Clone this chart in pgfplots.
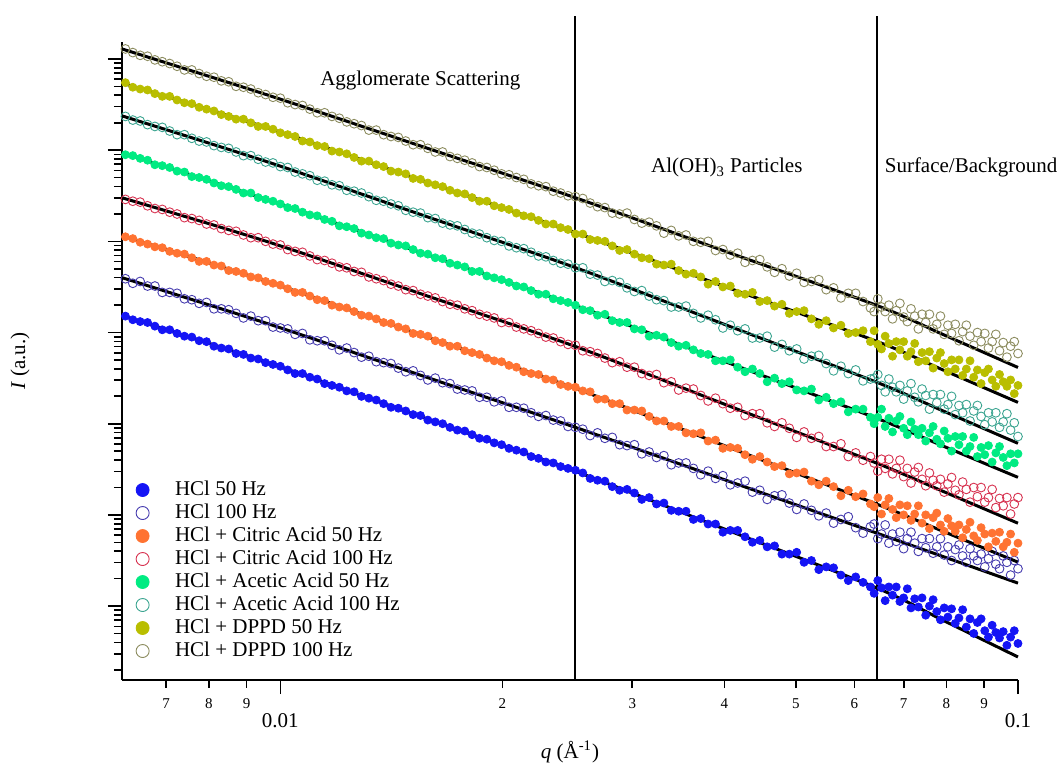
\documentclass[border=0pt]{standalone}
\usepackage{fontspec}
\setmainfont{Liberation Serif}
\usepackage{pgfplots}
\usepackage{pgfplotstable}
\pgfplotsset{compat=1.18}

% series colours
\definecolor{hclA}{RGB}{20,20,245}
\definecolor{hclB}{RGB}{70,60,175}
\definecolor{citA}{RGB}{255,115,50}
\definecolor{citB}{RGB}{215,50,80}
\definecolor{aceA}{RGB}{0,235,130}
\definecolor{aceB}{RGB}{60,165,145}
\definecolor{dppA}{RGB}{185,190,0}
\definecolor{dppB}{RGB}{140,140,95}

% scattering data: q (1/A) and log10 I for each sample
% s1 HCl 50, s2 HCl 100, s3 citric 50, s4 citric 100,
% s5 acetic 50, s6 acetic 100, s7 DPPD 50, s8 DPPD 100
\pgfplotstableread{
q s1 s2 s3 s4 s5 s6 s7 s8
0.0061660 3.18 3.59 4.05 4.46 4.95 5.37 5.74 6.11
0.0063096 3.14 3.54 4.03 4.44 4.94 5.33 5.69 6.07
0.0064565 3.12 3.56 3.99 4.43 4.91 5.32 5.67 6.04
0.0066069 3.11 3.51 3.97 4.39 4.89 5.28 5.66 6.03
0.0067608 3.07 3.51 3.94 4.36 4.84 5.26 5.62 5.99
0.0069183 3.03 3.44 3.93 4.35 4.83 5.25 5.59 5.97
0.0070795 3.03 3.44 3.89 4.32 4.81 5.21 5.59 5.95
0.0072444 2.99 3.43 3.87 4.30 4.77 5.17 5.55 5.92
0.0074131 2.96 3.37 3.86 4.26 4.76 5.17 5.52 5.88
0.0075858 2.95 3.36 3.82 4.25 4.71 5.13 5.51 5.88
0.0077625 2.91 3.32 3.78 4.23 4.70 5.10 5.47 5.84
0.0079433 2.90 3.33 3.78 4.19 4.68 5.09 5.45 5.81
0.0081283 2.85 3.26 3.74 4.18 4.64 5.05 5.43 5.80
0.0083176 2.83 3.26 3.73 4.14 4.61 5.03 5.39 5.76
0.0085114 2.82 3.25 3.68 4.12 4.60 5.02 5.37 5.75
0.0087096 2.77 3.21 3.67 4.11 4.57 4.98 5.34 5.70
0.0089125 2.76 3.16 3.65 4.07 4.53 4.94 5.34 5.69
0.0091201 2.72 3.18 3.61 4.04 4.53 4.94 5.30 5.67
0.0093325 2.71 3.13 3.60 4.04 4.48 4.90 5.26 5.63
0.0095499 2.67 3.13 3.56 4.00 4.46 4.87 5.26 5.61
0.0097724 2.65 3.06 3.54 3.97 4.44 4.86 5.23 5.58
0.010000 2.63 3.05 3.52 3.96 4.41 4.82 5.19 5.57
0.010233 2.59 3.04 3.48 3.91 4.37 4.81 5.17 5.52
0.010471 2.55 2.98 3.44 3.89 4.36 4.76 5.15 5.50
0.010715 2.55 2.99 3.44 3.88 4.32 4.74 5.10 5.49
0.010965 2.51 2.92 3.40 3.84 4.29 4.72 5.09 5.45
0.011220 2.49 2.91 3.36 3.80 4.28 4.67 5.05 5.41
0.011482 2.44 2.91 3.35 3.79 4.24 4.66 5.04 5.41
0.011749 2.42 2.86 3.30 3.76 4.22 4.62 4.99 5.37
0.012023 2.40 2.81 3.28 3.72 4.17 4.61 4.98 5.35
0.012303 2.36 2.83 3.27 3.71 4.16 4.56 4.96 5.31
0.012589 2.35 2.78 3.23 3.67 4.14 4.55 4.92 5.29
0.012882 2.30 2.73 3.19 3.66 4.09 4.53 4.88 5.27
0.013183 2.28 2.74 3.18 3.61 4.07 4.49 4.88 5.22
0.013490 2.26 2.68 3.15 3.59 4.04 4.45 4.84 5.22
0.013804 2.22 2.67 3.11 3.57 4.03 4.44 4.82 5.17
0.014125 2.18 2.66 3.10 3.53 3.98 4.41 4.77 5.15
0.014454 2.17 2.61 3.06 3.51 3.96 4.39 4.76 5.14
0.014791 2.14 2.57 3.04 3.47 3.95 4.34 4.74 5.10
0.015136 2.10 2.58 2.99 3.46 3.91 4.32 4.69 5.06
0.015488 2.09 2.53 2.98 3.42 3.87 4.31 4.68 5.06
0.015849 2.04 2.48 2.96 3.40 3.86 4.26 4.64 5.02
0.016218 2.02 2.50 2.91 3.38 3.82 4.25 4.62 4.98
0.016596 2.00 2.45 2.89 3.34 3.81 4.20 4.60 4.98
0.016982 1.96 2.44 2.85 3.31 3.76 4.18 4.56 4.93
0.017378 1.93 2.38 2.85 3.30 3.74 4.17 4.53 4.91
0.017783 1.92 2.37 2.80 3.26 3.72 4.13 4.52 4.89
0.018197 1.88 2.36 2.78 3.24 3.67 4.09 4.48 4.86
0.018621 1.84 2.29 2.76 3.20 3.67 4.08 4.44 4.82
0.019055 1.83 2.29 2.72 3.18 3.62 4.04 4.44 4.81
0.019498 1.79 2.24 2.69 3.16 3.60 4.01 4.39 4.78
0.019953 1.77 2.25 2.68 3.11 3.58 4.00 4.37 4.74
0.020417 1.73 2.18 2.64 3.11 3.55 3.95 4.35 4.73
0.020893 1.71 2.18 2.62 3.06 3.51 3.93 4.31 4.70
0.021380 1.69 2.17 2.57 3.04 3.50 3.92 4.28 4.68
0.021878 1.64 2.12 2.55 3.02 3.46 3.88 4.27 4.63
0.022387 1.62 2.08 2.54 2.99 3.42 3.84 4.23 4.61
0.022909 1.58 2.09 2.49 2.95 3.42 3.83 4.19 4.60
0.023442 1.57 2.04 2.48 2.94 3.37 3.79 4.19 4.55
0.023988 1.53 2.03 2.43 2.90 3.35 3.76 4.15 4.53
0.024547 1.51 1.97 2.41 2.87 3.33 3.75 4.13 4.50
0.025119 1.49 1.96 2.40 2.86 3.30 3.71 4.08 4.49
0.025704 1.46 1.94 2.36 2.80 3.25 3.71 4.08 4.47
0.026303 1.40 1.87 2.35 2.79 3.24 3.64 4.02 4.42
0.026915 1.38 1.90 2.27 2.77 3.19 3.63 4.01 4.38
0.027542 1.37 1.84 2.27 2.72 3.20 3.56 4.00 4.37
0.028184 1.31 1.85 2.22 2.67 3.13 3.57 3.95 4.31
0.028840 1.27 1.77 2.22 2.68 3.11 3.55 3.90 4.30
0.029512 1.28 1.76 2.15 2.62 3.11 3.49 3.91 4.31
0.030200 1.24 1.77 2.15 2.62 3.04 3.45 3.86 4.24
0.030903 1.17 1.67 2.14 2.55 3.03 3.46 3.82 4.20
0.031623 1.19 1.69 2.08 2.53 2.96 3.40 3.81 4.21
0.032359 1.12 1.63 2.03 2.54 2.97 3.36 3.75 4.17
0.033113 1.13 1.65 2.03 2.45 2.95 3.35 3.74 4.09
0.033884 1.05 1.55 1.97 2.46 2.89 3.28 3.75 4.12
0.034674 1.04 1.57 1.97 2.37 2.85 3.28 3.68 4.06
0.035481 1.04 1.57 1.90 2.39 2.86 3.29 3.64 4.07
0.036308 0.95 1.51 1.89 2.38 2.81 3.21 3.65 4.00
0.037154 0.96 1.44 1.90 2.31 2.77 3.16 3.61 3.99
0.038019 0.90 1.48 1.81 2.25 2.76 3.19 3.53 4.00
0.038905 0.90 1.40 1.82 2.28 2.69 3.14 3.56 3.90
0.039811 0.81 1.43 1.73 2.22 2.69 3.05 3.50 3.91
0.040738 0.83 1.33 1.74 2.17 2.70 3.08 3.51 3.85
0.041687 0.83 1.35 1.73 2.18 2.62 3.02 3.43 3.87
0.042658 0.76 1.37 1.66 2.09 2.57 3.04 3.42 3.77
0.043652 0.70 1.25 1.61 2.11 2.60 2.94 3.44 3.79
0.044668 0.72 1.27 1.64 2.11 2.55 2.94 3.34 3.80
0.045709 0.65 1.17 1.58 2.01 2.46 2.96 3.35 3.72
0.046774 0.66 1.21 1.53 1.97 2.50 2.84 3.29 3.66
0.047863 0.57 1.22 1.54 2.01 2.44 2.87 3.31 3.70
0.048978 0.57 1.13 1.45 1.95 2.46 2.80 3.21 3.62
0.050119 0.59 1.06 1.46 1.85 2.37 2.82 3.23 3.65
0.051286 0.48 1.12 1.47 1.91 2.36 2.71 3.24 3.55
0.052481 0.50 1.05 1.37 1.84 2.38 2.74 3.15 3.56
0.053703 0.40 0.99 1.33 1.86 2.26 2.75 3.09 3.58
0.054954 0.43 1.02 1.37 1.75 2.29 2.66 3.13 3.47
0.056234 0.42 0.91 1.31 1.75 2.22 2.58 3.05 3.49
0.057544 0.34 0.95 1.21 1.78 2.24 2.63 3.08 3.38
0.058884 0.28 0.98 1.27 1.64 2.13 2.55 2.99 3.43
0.060256 0.32 0.86 1.20 1.68 2.16 2.59 3.00 3.43
0.061660 0.26 0.80 1.23 1.60 2.16 2.47 3.02 3.34
0.063096 0.21 0.87 1.12 1.64 2.07 2.49 2.90 3.27
0.063826 0.14 0.90 1.09 1.57 2.00 2.50 3.02 3.23
0.064565 0.28 0.74 1.19 1.48 2.07 2.54 2.87 3.37
0.065313 0.20 0.79 1.01 1.61 2.16 2.42 2.82 3.28
0.066069 0.06 0.89 1.11 1.51 1.97 2.35 2.96 3.23
0.066834 0.21 0.69 1.18 1.61 2.06 2.49 2.88 3.30
0.067608 0.12 0.79 1.06 1.45 1.91 2.40 2.74 3.15
0.068391 0.21 0.71 0.97 1.51 2.03 2.35 2.90 3.24
0.069183 0.05 0.81 1.11 1.60 2.08 2.42 2.81 3.32
0.069984 0.09 0.63 1.00 1.42 1.95 2.27 2.90 3.17
0.070795 0.19 0.74 1.10 1.51 1.88 2.36 2.74 3.12
0.071614 -0.02 0.81 0.94 1.35 2.02 2.44 2.79 3.26
0.072444 0.08 0.69 1.01 1.47 1.94 2.29 2.88 3.18
0.073282 -0.01 0.60 1.10 1.52 1.88 2.24 2.68 3.04
0.074131 0.09 0.74 0.91 1.39 1.95 2.38 2.78 3.20
0.074989 -0.10 0.64 1.00 1.32 1.81 2.31 2.69 3.11
0.075858 0.00 0.74 0.85 1.46 1.90 2.16 2.79 3.20
0.076736 0.07 0.58 0.97 1.38 1.97 2.32 2.61 3.04
0.077625 -0.06 0.65 1.02 1.32 1.83 2.23 2.72 3.09
0.078524 -0.15 0.74 0.89 1.39 1.78 2.32 2.78 3.18
0.079433 -0.02 0.56 0.82 1.25 1.92 2.16 2.66 2.98
0.080353 -0.12 0.65 0.96 1.34 1.84 2.21 2.57 3.08
0.081283 -0.03 0.50 0.88 1.41 1.70 2.30 2.70 2.99
0.082224 -0.19 0.62 0.82 1.27 1.86 2.10 2.60 3.09
0.083176 -0.13 0.67 0.89 1.22 1.77 2.20 2.70 2.91
0.084140 -0.04 0.55 0.75 1.36 1.86 2.12 2.53 3.01
0.085114 -0.23 0.48 0.84 1.28 1.70 2.21 2.60 3.08
0.086100 -0.14 0.63 0.92 1.14 1.75 2.03 2.69 2.96
0.087096 -0.30 0.55 0.77 1.30 1.85 2.14 2.51 2.86
0.088105 -0.18 0.50 0.72 1.20 1.64 2.20 2.59 3.00
0.089125 -0.14 0.57 0.86 1.30 1.74 2.08 2.44 2.90
0.090157 -0.27 0.43 0.79 1.14 1.66 1.99 2.56 2.99
0.091201 -0.34 0.52 0.65 1.19 1.76 2.12 2.60 2.83
0.092257 -0.21 0.60 0.80 1.28 1.58 2.02 2.48 2.90
0.093325 -0.29 0.46 0.71 1.08 1.68 2.12 2.41 2.98
0.094406 -0.35 0.41 0.81 1.18 1.75 1.96 2.54 2.80
0.095499 -0.28 0.55 0.65 1.10 1.63 2.02 2.46 2.89
0.096605 -0.43 0.48 0.70 1.19 1.54 2.11 2.41 2.73
0.097724 -0.34 0.34 0.79 1.01 1.67 1.93 2.48 2.85
0.098855 -0.27 0.50 0.59 1.12 1.57 2.01 2.33 2.90
0.100000 -0.41 0.41 0.69 1.19 1.67 1.86 2.42 2.77
}\scatterdata

% unified-model fits, log10 I at selected q
\pgfplotstableread{
q s1 s2 s3 s4 s5 s6 s7 s8
0.0061 3.186 3.602 4.062 4.478 4.971 5.376 5.737 6.110
0.009693 2.661 3.088 3.548 3.986 4.445 4.861 5.234 5.595
0.015849 2.050 2.505 2.948 3.399 3.851 4.267 4.646 5.019
0.025119 1.478 1.960 2.387 2.847 3.296 3.712 4.095 4.478
0.039811 0.852 1.392 1.766 2.221 2.690 3.096 3.512 3.900
0.064418 0.197 0.799 1.117 1.566 2.058 2.453 2.902 3.296
0.079433 -0.162 0.539 0.815 1.253 1.750 2.135 2.584 2.973
0.1 -0.558 0.252 0.482 0.909 1.412 1.785 2.234 2.617
}\fitdata

\begin{document}
\begin{tikzpicture}
\begin{axis}[
  scale only axis, width=448pt, height=319pt,
  xmode=log, ymode=log,
  xmin=0.0061, xmax=0.1, ymin=0.1547, ymax=1.535e6,
  axis x line*=bottom, axis y line*=left,
  axis line style={line width=0.9pt, black},
  tick align=outside,
  tick style={line width=0.8pt, black},
  major tick length=7pt, minor tick length=4pt,
  xtick={0.01,0.1}, xticklabels={0.01,0.1},
  minor xtick={},
  xticklabel style={font=\fontsize{10.5}{12}\selectfont, yshift=-6pt},
  extra x ticks={0.007,0.008,0.009,0.02,0.03,0.04,0.05,0.06,0.07,0.08,0.09},
  extra x tick labels={7,8,9,2,3,4,5,6,7,8,9},
  extra x tick style={major tick length=3.75pt,
    xticklabel style={font=\fontsize{7.5}{9}\selectfont, yshift=4pt}},
  ytick={1,10,100,1000,10000,100000,1000000},
  minor ytick={0.2,0.3,0.4,0.5,0.6,0.7,0.8,0.9,2,3,4,5,6,7,8,9,
    20,30,40,50,60,70,80,90,200,300,400,500,600,700,800,900,
    2000,3000,4000,5000,6000,7000,8000,9000,
    20000,30000,40000,50000,60000,70000,80000,90000,
    200000,300000,400000,500000,600000,700000,800000,900000},
  yticklabels={},
  xlabel={\textit{q} (Å\textsuperscript{-1})},
  xlabel style={at={(axis description cs:0.5,-0.1129)}, anchor=center,
    font=\fontsize{10.5}{12}\selectfont},
  ylabel={\textit{I} (a.u.)},
  ylabel style={at={(axis description cs:-0.1138,0.5)}, anchor=center,
    font=\fontsize{10.5}{12}\selectfont},
  clip=false,
  legend cell align=left,
  legend style={draw=none, fill=none,
    at={(axis description cs:0.0082,0.318)}, anchor=north west,
    font=\fontsize{10.5}{12}\selectfont,
    row sep=3pt,
    nodes={inner sep=0pt, text height=7pt, text depth=1.5pt}},
  legend image code/.code={
    \draw[#1, mark size=3.25pt] plot coordinates {(3.25pt,0pt)};
    \path (0pt,0pt) (19.25pt,0pt);},
]
% measured curves
\addplot[only marks, mark=*, mark size=2pt, color=hclA]
  table[x=q, y expr={10^(\thisrow{s1})}] {\scatterdata};
\addlegendentry{HCl 50 Hz}
\addplot[only marks, mark=o, mark size=2.2pt, mark options={line width=0.45pt}, color=hclB]
  table[x=q, y expr={10^(\thisrow{s2})}] {\scatterdata};
\addlegendentry{HCl 100 Hz}
\addplot[only marks, mark=*, mark size=2pt, color=citA]
  table[x=q, y expr={10^(\thisrow{s3})}] {\scatterdata};
\addlegendentry{HCl + Citric Acid 50 Hz}
\addplot[only marks, mark=o, mark size=2.2pt, mark options={line width=0.45pt}, color=citB]
  table[x=q, y expr={10^(\thisrow{s4})}] {\scatterdata};
\addlegendentry{HCl + Citric Acid 100 Hz}
\addplot[only marks, mark=*, mark size=2pt, color=aceA]
  table[x=q, y expr={10^(\thisrow{s5})}] {\scatterdata};
\addlegendentry{HCl + Acetic Acid 50 Hz}
\addplot[only marks, mark=o, mark size=2.2pt, mark options={line width=0.45pt}, color=aceB]
  table[x=q, y expr={10^(\thisrow{s6})}] {\scatterdata};
\addlegendentry{HCl + Acetic Acid 100 Hz}
\addplot[only marks, mark=*, mark size=2pt, color=dppA]
  table[x=q, y expr={10^(\thisrow{s7})}] {\scatterdata};
\addlegendentry{HCl + DPPD 50 Hz}
\addplot[only marks, mark=o, mark size=2.2pt, mark options={line width=0.45pt}, color=dppB]
  table[x=q, y expr={10^(\thisrow{s8})}] {\scatterdata};
\addlegendentry{HCl + DPPD 100 Hz}

% fitted curves
\foreach \s in {s1,s2,s3,s4,s5,s6,s7,s8}{
  \addplot[forget plot, black, line width=1.5pt, smooth]
    table[x=q, y expr={10^(\thisrow{\s})}] {\fitdata};
}

% region boundaries
\draw[line width=1.2pt] (axis cs:0.0251,0.1547) -- (axis cs:0.0251,2.96e6);
\draw[line width=1.2pt] (axis cs:0.0644,0.1547) -- (axis cs:0.0644,2.96e6);

\node[font=\fontsize{10.5}{12}\selectfont] at (axis cs:0.01548,5.74e5) {Agglomerate Scattering};
\node[font=\fontsize{10.5}{12}\selectfont] at (axis cs:0.0403,6.41e4) {Al(OH)\textsubscript{3} Particles};
\node[font=\fontsize{10.5}{12}\selectfont] at (axis cs:0.0864,6.41e4) {Surface/Background};
\end{axis}
\pgfresetboundingbox
\path (current axis.south west) ++(-61pt,-43.5pt) rectangle ++(528.5pt,383.5pt);
\end{tikzpicture}
\end{document}
